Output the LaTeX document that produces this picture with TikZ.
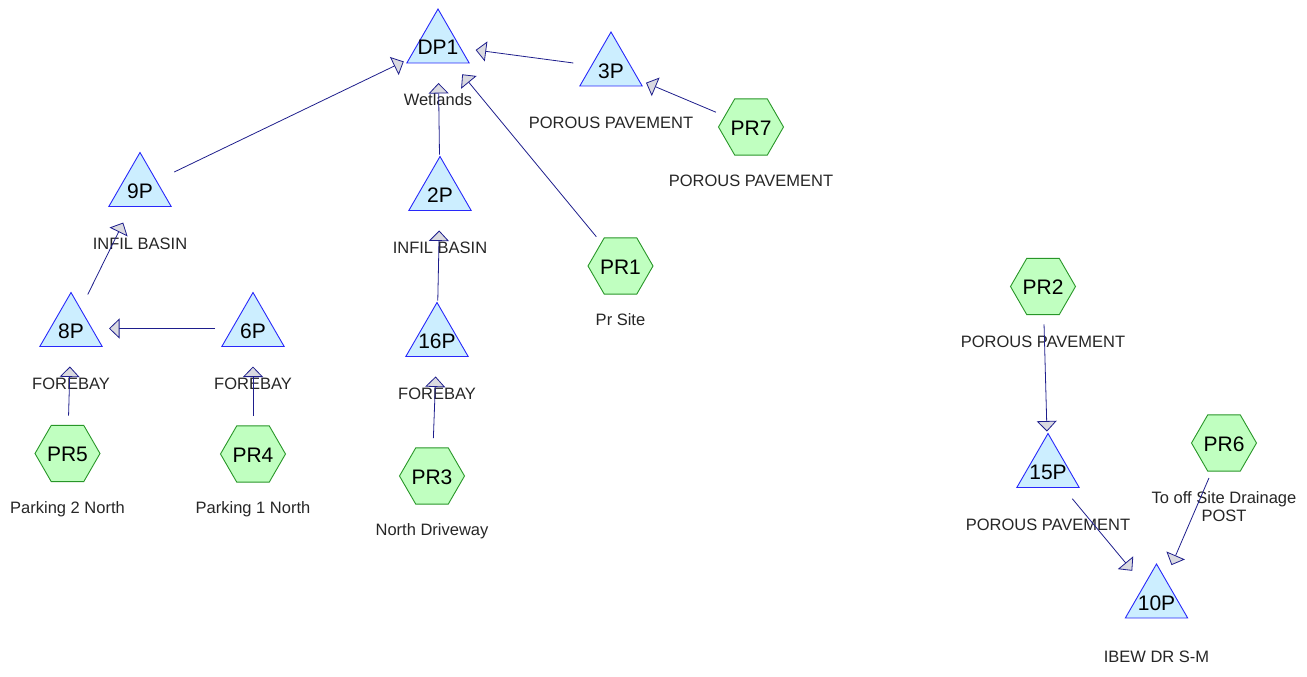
\documentclass[tikz,border=0pt]{standalone}
\usepackage{fontspec}
\setmainfont{Liberation Sans}
\usepackage{tikz}
\usetikzlibrary{arrows.meta,shapes.geometric,positioning}
\definecolor{pondfill}{RGB}{204,238,255}
\definecolor{pondline}{RGB}{40,40,250}
\definecolor{catfill}{RGB}{192,255,192}
\definecolor{catline}{RGB}{40,150,40}
\definecolor{flowline}{RGB}{30,30,140}
\definecolor{tipfill}{RGB}{218,218,224}
\tikzset{
    pond/.style ={regular polygon, regular polygon sides=3, draw=pondline, fill=pondfill, line width=0.9pt,
        minimum size=72pt, inner sep=-8pt, text height=20pt, text depth=0pt, font=\fontsize{21}{25}\selectfont},
    subcat/.style ={regular polygon, regular polygon sides=6, draw=catline, fill=catfill, line width=0.9pt,
        minimum size=65pt, inner sep=-8pt, text height=16pt, text depth=0pt, font=\fontsize{21}{25}\selectfont},
    tag/.style = {yshift=-55pt, inner sep=0pt, text=black!85, text height=11.8pt, text depth=0pt,
        font=\fontsize{16.5}{19}\selectfont},
    flow/.style = {draw=flowline, line width=0.8pt, -{Triangle[length=10.5pt,width=20pt,fill=tipfill]},
        shorten <=38pt, shorten >=38pt}
}

\begin{document}
\begin{tikzpicture}[x=1pt,y=-1pt]
  \useasboundingbox (0,0) rectangle (1307,677);

  % Draw the ponds
  \node[pond, label={[tag]center:Wetlands}] (dp1) at (438,45) {DP1};
  \node[pond, label={[tag]center:POROUS PAVEMENT}] (p3) at (611,68) {3P};
  \node[pond, label={[tag]center:INFIL BASIN}] (p9) at (140,188.5) {9P};
  \node[pond, label={[tag]center:INFIL BASIN}] (p2) at (440,192.5) {2P};
  \node[pond, label={[tag]center:FOREBAY}] (p8) at (71,328.5) {8P};
  \node[pond, label={[tag]center:FOREBAY}] (p6) at (253,328.5) {6P};
  \node[pond, label={[tag]center:FOREBAY}] (p16) at (437,338.5) {16P};
  \node[pond, label={[tag]center:POROUS PAVEMENT}] (p15) at (1048,469.5) {15P};
  \node[pond, label={[tag,yshift=-1.5pt]center:IBEW DR S-M}] (p10) at (1156.5,600) {10P};

  % Draw the subcatchments
  \node[subcat, label={[tag,yshift=1pt]center:Pr Site}] (pr1) at (620.5,266) {PR1};
  \node[subcat, label={[tag]center:POROUS PAVEMENT}] (pr2) at (1043,286.5) {PR2};
  \node[subcat, label={[tag,yshift=1pt]center:North Driveway}] (pr3) at (432,476) {PR3};
  \node[subcat, label={[tag,yshift=1pt]center:Parking 1 North}] (pr4) at (253,454) {PR4};
  \node[subcat, label={[tag,yshift=1pt]center:Parking 2 North}] (pr5) at (67.5,453.5) {PR5};
  \node[subcat, label={[tag]center:To off Site Drainage},
    label={[tag,yshift=-18pt]center:POST}] (pr6) at (1224,443) {PR6};
  \node[subcat, label={[tag,yshift=1pt]center:POROUS PAVEMENT}] (pr7) at (751,127) {PR7};

  % Draw the arrows
  \draw[flow] (p9.center) -- (dp1.center);
  \draw[flow] (p3.center) -- (dp1.center);
  \draw[flow] (p2.center) -- (dp1.center);
  \draw[flow] (pr1.center) -- (dp1.center);
  \draw[flow] (pr7.center) -- (p3.center);
  \draw[flow] (p8.center) -- (p9.center);
  \draw[flow] (p6.center) -- (p8.center);
  \draw[flow] (pr5.center) -- (p8.center);
  \draw[flow] (pr4.center) -- (p6.center);
  \draw[flow] (p16.center) -- (p2.center);
  \draw[flow] (pr3.center) -- (p16.center);
  \draw[flow] (pr2.center) -- (p15.center);
  \draw[flow] (p15.center) -- (p10.center);
  \draw[flow] (pr6.center) -- (p10.center);
\end{tikzpicture}
\end{document}
